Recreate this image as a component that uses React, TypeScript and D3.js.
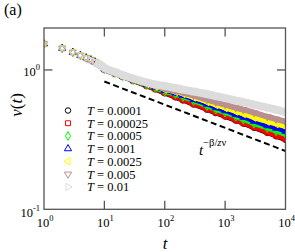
import { useEffect, useRef } from "react";
import * as d3 from "d3";

// time steps (t) at which the curves are read
const times = [1, 2, 3, 4, 5, 6, 7, 8, 9, 10, 15, 20, 30, 50, 70, 100, 150, 200, 300, 500, 700, 1000, 1500, 2000, 3000, 5000, 7000, 10000];

const temps = ["0.0001", "0.00025", "0.0005", "0.001", "0.0025", "0.005", "0.01"];

const vT0001 = [1.540, 1.429, 1.338, 1.272, 1.221, 1.181, 1.142, 1.105, 1.069, 1.005, 0.937, 0.893, 0.834, 0.767, 0.725, 0.680, 0.636, 0.604, 0.565, 0.519, 0.490, 0.463, 0.433, 0.412, 0.385, 0.354, 0.334, 0.315];
const vT00025 = [1.540, 1.429, 1.338, 1.272, 1.221, 1.181, 1.142, 1.105, 1.069, 1.007, 0.940, 0.896, 0.837, 0.769, 0.727, 0.685, 0.641, 0.609, 0.568, 0.522, 0.494, 0.467, 0.436, 0.415, 0.388, 0.356, 0.337, 0.318];
const vT0005 = [1.540, 1.429, 1.338, 1.272, 1.221, 1.181, 1.142, 1.105, 1.069, 1.013, 0.948, 0.899, 0.843, 0.778, 0.742, 0.700, 0.668, 0.639, 0.598, 0.550, 0.519, 0.494, 0.462, 0.439, 0.411, 0.382, 0.363, 0.345];
const vT001 = [1.540, 1.429, 1.338, 1.272, 1.221, 1.181, 1.142, 1.105, 1.069, 1.018, 0.953, 0.904, 0.847, 0.785, 0.752, 0.712, 0.683, 0.655, 0.613, 0.568, 0.536, 0.510, 0.478, 0.458, 0.429, 0.398, 0.382, 0.363];
const vT0025 = [1.540, 1.429, 1.338, 1.272, 1.221, 1.181, 1.142, 1.105, 1.069, 1.024, 0.958, 0.908, 0.854, 0.793, 0.760, 0.723, 0.694, 0.672, 0.633, 0.588, 0.559, 0.532, 0.502, 0.482, 0.454, 0.425, 0.408, 0.391];
const vT005 = [1.540, 1.429, 1.338, 1.272, 1.221, 1.181, 1.142, 1.105, 1.069, 1.029, 0.963, 0.914, 0.861, 0.803, 0.773, 0.735, 0.708, 0.688, 0.655, 0.613, 0.588, 0.564, 0.536, 0.519, 0.494, 0.462, 0.443, 0.425];
const vT01 = [1.540, 1.429, 1.338, 1.272, 1.221, 1.181, 1.142, 1.105, 1.069, 1.034, 0.967, 0.920, 0.868, 0.813, 0.786, 0.767, 0.742, 0.723, 0.700, 0.672, 0.649, 0.628, 0.603, 0.588, 0.564, 0.536, 0.519, 0.498];

// power-law guide t^(-beta/z nu)
const guideT = [10, 10000];
const guideV = [0.826, 0.262];

const xTicks = [1, 10, 100, 1000, 10000];
const xTickExp = ["0", "1", "2", "3", "4"];
const yTicks = [0.1, 1];
const yTickExp = ["-1", "0"];

const seriesValues = [vT0001, vT00025, vT0005, vT001, vT0025, vT005, vT01];
const colors = ["#000000", "#ff0000", "#00ff00", "#0000ff", "#ffff00", "#bc8f8f", "#dcdcdc"];
const shapes = ["circle", "square", "diamond", "up", "left", "down", "right"];
const bandWidth = [4.5, 4.5, 4.5, 4.5, 4.5, 6, 8];

function symbolPath(shape: string) {
  if (shape === "circle") return d3.symbol().type(d3.symbolCircle).size(24)()!;
  if (shape === "square") return d3.symbol().type(d3.symbolSquare).size(24)()!;
  if (shape === "diamond") return d3.symbol().type(d3.symbolDiamond).size(22)()!;
  return d3.symbol().type(d3.symbolTriangle).size(22)()!;
}
function symbolRot(shape: string) {
  if (shape === "left") return -90;
  if (shape === "down") return 180;
  if (shape === "right") return 90;
  return 0;
}

export default function App() {
  const svgRef = useRef<SVGSVGElement>(null);

  useEffect(() => {
    const svg = d3.select(svgRef.current);
    svg.selectAll("*").remove();

    const left = 44, right = 285.5, top = 28, bottom = 209.3;
    const x = d3.scaleLog().domain([1, 10000]).range([left, right]);
    const y = d3.scaleLog().domain([0.1, 2]).range([bottom, top]);
    const serif = "Liberation Serif, DejaVu Serif, serif";

    svg.append("defs").append("clipPath").attr("id", "plotclip")
      .append("rect").attr("x", left).attr("y", top).attr("width", right - left).attr("height", bottom - top);

    const plot = svg.append("g").attr("clip-path", "url(#plotclip)");

    const line = d3.line<[number, number]>()
      .x((d) => x(d[0]))
      .y((d) => y(d[1]))
      .curve(d3.curveMonotoneX);

    seriesValues.forEach((vals, i) => {
      const pts: [number, number][] = times.map((t, k) => [t, vals[k]]);
      const g = plot.append("g");
      g.append("path")
        .attr("d", line(pts.filter((p) => p[0] >= 7)))
        .attr("fill", "none")
        .attr("stroke", colors[i])
        .attr("stroke-width", bandWidth[i])
        .attr("stroke-linejoin", "round");
      g.selectAll("path.pt")
        .data(pts)
        .enter()
        .append("path")
        .attr("class", "pt")
        .attr("d", symbolPath(shapes[i]))
        .attr("transform", (d) => `translate(${x(d[0])},${y(d[1])}) rotate(${symbolRot(shapes[i])})`)
        .attr("fill", "none")
        .attr("stroke", colors[i])
        .attr("stroke-width", 1);
    });

    // dashed guide
    plot.append("path")
      .attr("d", line.curve(d3.curveLinear)(guideT.map((t, k) => [t, guideV[k]] as [number, number])))
      .attr("fill", "none")
      .attr("stroke", "#000")
      .attr("stroke-width", 2)
      .attr("stroke-dasharray", "6,3.5");

    // frame
    svg.append("rect")
      .attr("x", left).attr("y", top).attr("width", right - left).attr("height", bottom - top)
      .attr("fill", "none").attr("stroke", "#555").attr("stroke-width", 1.3);

    const tickLen = 8.5;
    xTicks.forEach((t, i) => {
      const xx = x(t);
      if (i > 0 && i < xTicks.length - 1) {
        svg.append("line").attr("x1", xx).attr("x2", xx).attr("y1", bottom).attr("y2", bottom - tickLen).attr("stroke", "#555").attr("stroke-width", 1.3);
        svg.append("line").attr("x1", xx).attr("x2", xx).attr("y1", top).attr("y2", top + tickLen).attr("stroke", "#555").attr("stroke-width", 1.3);
      }
      const tx = svg.append("text").attr("x", xx + 1).attr("y", 227).attr("text-anchor", "middle")
        .attr("font-family", serif).attr("font-size", 12.5).attr("fill", "#000");
      tx.append("tspan").text("10");
      tx.append("tspan").attr("dy", -6).attr("font-size", 8.5).text(xTickExp[i]);
    });

    yTicks.forEach((v, i) => {
      const yy = y(v);
      if (v === 1) {
        svg.append("line").attr("x1", left).attr("x2", left + tickLen).attr("y1", yy).attr("y2", yy).attr("stroke", "#555").attr("stroke-width", 1.3);
        svg.append("line").attr("x1", right).attr("x2", right - tickLen).attr("y1", yy).attr("y2", yy).attr("stroke", "#555").attr("stroke-width", 1.3);
      }
      const ty = svg.append("text").attr("x", 40).attr("y", yy + (v === 1 ? 6 : 7.4)).attr("text-anchor", "end")
        .attr("font-family", serif).attr("font-size", 12.5).attr("fill", "#000");
      ty.append("tspan").text("10");
      ty.append("tspan").attr("dy", -6).attr("font-size", 8.5).text(yTickExp[i]);
    });

    // legend
    temps.forEach((T, i) => {
      const ly = 110.5 + i * 12.73;
      svg.append("path")
        .attr("d", symbolPath(shapes[i]))
        .attr("transform", `translate(68,${ly}) rotate(${symbolRot(shapes[i])})`)
        .attr("fill", "none")
        .attr("stroke", colors[i])
        .attr("stroke-width", 1);
      const lt = svg.append("text").attr("x", 87).attr("y", ly + 4.5)
        .attr("font-family", serif).attr("font-size", 12.5).attr("fill", "#000");
      lt.append("tspan").attr("font-style", "italic").text("T");
      lt.append("tspan").text(" = " + T);
    });

    // guide label
    const gl = svg.append("text").attr("x", 199).attr("y", 155)
      .attr("font-family", serif).attr("font-size", 15).attr("fill", "#000");
    gl.append("tspan").attr("font-style", "italic").text("t");
    gl.append("tspan").attr("dy", -9).attr("font-size", 10.5).text("\u2212\u03b2/");
    gl.append("tspan").attr("font-size", 10.5).attr("font-style", "italic").text("z");
    gl.append("tspan").attr("font-size", 10.5).text("\u03bd");

    // axis titles
    const yl = svg.append("text").attr("transform", "translate(22,105) rotate(-90)").attr("text-anchor", "middle")
      .attr("font-family", serif).attr("font-size", 17).attr("fill", "#000");
    yl.append("tspan").attr("font-style", "italic").text("v");
    yl.append("tspan").text("(");
    yl.append("tspan").attr("font-style", "italic").text("t");
    yl.append("tspan").text(")");

    svg.append("text").attr("x", 165).attr("y", 249).attr("text-anchor", "middle")
      .attr("font-family", serif).attr("font-size", 17).attr("font-style", "italic").attr("fill", "#000").text("t");

    svg.append("text").attr("x", 4).attr("y", 15)
      .attr("font-family", serif).attr("font-size", 16).attr("fill", "#000").text("(a)");
  }, []);

  return (
    <svg
      ref={svgRef}
      width={295}
      height={252}
      style={{ position: "absolute", left: 0, top: 0, background: "#fff" }}
    />
  );
}
